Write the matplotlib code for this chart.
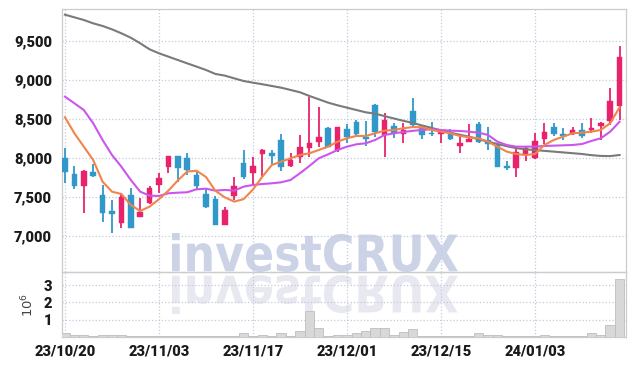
import matplotlib
matplotlib.use('Agg')
import matplotlib.pyplot as plt
from matplotlib.textpath import TextPath
from matplotlib.patches import PathPatch
from matplotlib.font_manager import FontProperties
from matplotlib.transforms import Affine2D

# trading days (yy/mm/dd)
dates = ['23/10/20', '23/10/23', '23/10/24', '23/10/25', '23/10/26', '23/10/27',
         '23/10/30', '23/10/31', '23/11/01', '23/11/02', '23/11/03', '23/11/06',
         '23/11/07', '23/11/08', '23/11/09', '23/11/10', '23/11/13', '23/11/14',
         '23/11/15', '23/11/16', '23/11/17', '23/11/20', '23/11/21', '23/11/22',
         '23/11/23', '23/11/24', '23/11/27', '23/11/28', '23/11/29', '23/11/30',
         '23/12/01', '23/12/04', '23/12/05', '23/12/06', '23/12/07', '23/12/08',
         '23/12/11', '23/12/12', '23/12/13', '23/12/14', '23/12/15', '23/12/18',
         '23/12/19', '23/12/20', '23/12/21', '23/12/22', '23/12/26', '23/12/27',
         '23/12/28', '24/01/02', '24/01/03', '24/01/04', '24/01/05', '24/01/08',
         '24/01/09', '24/01/10', '24/01/11', '24/01/12', '24/01/15', '24/01/16']

opens = [8000, 7800, 7640, 7830, 7530, 7320, 7175, 7530, 7250, 7425,
         7655, 7890, 8025, 8000, 7785, 7540, 7475, 7150, 7520, 7935,
         7805, 8055, 8070, 8235, 7905, 8010, 8135, 8215, 8385, 8100,
         8370, 8465, 8265, 8685, 8300, 8415, 8310, 8605, 8405, 8330,
         8305, 8325, 8160, 8215, 8440, 8240, 8175, 7900, 7870, 8040,
         8000, 8245, 8400, 8310, 8310, 8365, 8365, 8415, 8480, 8675]
closes = [7825, 7640, 7840, 7770, 7295, 7280, 7505, 7110, 7310, 7615,
          7750, 8025, 7870, 7845, 7650, 7370, 7150, 7340, 7640, 7765,
          7900, 8100, 8030, 7890, 7980, 8140, 8190, 8270, 8140, 8400,
          8270, 8310, 8250, 8340, 8490, 8320, 8365, 8425, 8300, 8305,
          8360, 8250, 8200, 8245, 8205, 8180, 7890, 7870, 8075, 8130,
          8220, 8335, 8315, 8290, 8365, 8280, 8390, 8450, 8735, 9295]
highs = [8130, 7900, 7850, 7930, 7660, 7470, 7560, 7615, 7495, 7640,
         7810, 8030, 8030, 8065, 7830, 7600, 7520, 7375, 7765, 8100,
         8020, 8125, 8100, 8310, 8070, 8300, 8780, 8660, 8395, 8405,
         8435, 8490, 8480, 8690, 8575, 8450, 8450, 8770, 8430, 8470,
         8365, 8370, 8300, 8440, 8465, 8400, 8195, 7970, 8160, 8160,
         8320, 8450, 8450, 8390, 8400, 8450, 8515, 8470, 8900, 9440]
lows = [7680, 7600, 7300, 7760, 7180, 7040, 7100, 7100, 7245, 7420,
        7560, 7810, 7690, 7790, 7590, 7365, 7150, 7145, 7465, 7730,
        7660, 7765, 7915, 7840, 7890, 7935, 8020, 8140, 8140, 8080,
        8190, 8285, 8160, 8275, 8020, 8255, 8190, 8415, 8245, 8280,
        8200, 8235, 8070, 8210, 8200, 8110, 7890, 7850, 7755, 7960,
        7995, 8185, 8280, 8235, 8300, 8255, 8320, 8235, 8430, 8490]

# volume in millions
volumes = [0.23, 0.17, 0.17, 0.11, 0.17, 0.17, 0.17, 0.11, 0.11, 0.11,
           0.08, 0.11, 0.11, 0.11, 0.08, 0.08, 0.08, 0.08, 0.11, 0.23,
           0.11, 0.17, 0.11, 0.23, 0.11, 0.36, 1.50, 0.57, 0.11, 0.17,
           0.17, 0.23, 0.38, 0.57, 0.53, 0.17, 0.29, 0.46, 0.11, 0.11,
           0.08, 0.08, 0.11, 0.11, 0.27, 0.17, 0.17, 0.08, 0.11, 0.08,
           0.11, 0.17, 0.11, 0.08, 0.08, 0.11, 0.23, 0.17, 0.74, 3.37]

# moving averages (short / mid / long)
ma_short = [8526, 8320, 8149, 7978, 7700, 7572, 7542, 7401, 7324, 7380,
            7475, 7585, 7715, 7830, 7840, 7760, 7583, 7500, 7444, 7476,
            7600, 7764, 7914, 7956, 8000, 8042, 8064, 8106, 8149, 8213,
            8256, 8286, 8286, 8320, 8354, 8363, 8385, 8400, 8397, 8363,
            8341, 8320, 8286, 8269, 8256, 8213, 8149, 8085, 8055, 8042,
            8055, 8170, 8235, 8277, 8320, 8328, 8341, 8363, 8449, 8654]
ma_mid = [8790, 8705, 8619, 8449, 8235, 8042, 7892, 7722, 7572, 7521,
          7517, 7551, 7559, 7564, 7602, 7610, 7585, 7594, 7585, 7636,
          7658, 7670, 7679, 7692, 7722, 7808, 7901, 8000, 8051, 8106,
          8149, 8179, 8192, 8235, 8299, 8320, 8337, 8352, 8363, 8372,
          8363, 8354, 8350, 8341, 8328, 8299, 8213, 8170, 8149, 8149,
          8149, 8158, 8162, 8166, 8170, 8183, 8222, 8256, 8341, 8469]
ma_long = [9841, 9807, 9773, 9730, 9696, 9653, 9602, 9546, 9474, 9397,
           9346, 9303, 9260, 9217, 9175, 9132, 9081, 9060, 9025, 8991,
           8969, 8949, 8927, 8905, 8876, 8846, 8799, 8756, 8713, 8679,
           8649, 8619, 8589, 8572, 8540, 8510, 8480, 8453, 8420, 8390,
           8357, 8328, 8302, 8277, 8243, 8213, 8183, 8155, 8130, 8115,
           8105, 8095, 8085, 8075, 8065, 8055, 8040, 8030, 8028, 8042]

price_ticks = [7000, 7500, 8000, 8500, 9000, 9500]
vol_ticks = [1, 2, 3]

UP = '#e8236b'
DOWN = '#3199c9'
GRID = '#c5c9de'
label_font = 'Roboto'

fig = plt.figure(figsize=(6.34, 3.66), dpi=100)
fig.patch.set_facecolor('white')
ax = fig.add_axes([0.0973, 0.2560, 0.8893, 0.7186])
axv = fig.add_axes([0.0973, 0.0779, 0.8893, 0.1781], sharex=ax)

# watermark with its reflection, drawn behind the axes
tp = TextPath((0, 0), 'investCRUX', size=50,
              prop=FontProperties(family='DejaVu Sans', weight='bold'))
ext = tp.get_extents()
sx = 286 / ext.width
sy = 39 / ext.height
t_up = Affine2D().translate(-ext.x0, -ext.y0).scale(sx, sy).translate(172, 366 - 272)
t_dn = Affine2D().translate(-ext.x0, -ext.y0).scale(sx, -sy).translate(172, 366 - 275)
fig.add_artist(PathPatch(tp, transform=t_up, facecolor='#cdd3e7',
                         edgecolor='none', zorder=-2))
fig.add_artist(PathPatch(tp, transform=t_dn, facecolor='#e8e9f0',
                         edgecolor='none', zorder=-2))

idx = list(range(len(dates)))

# candles
for i in idx:
    o, c, h, l = opens[i], closes[i], highs[i], lows[i]
    col = UP if c >= o else DOWN
    ax.vlines(i, l, h, color=col, lw=1.3, zorder=3)
    body = max(abs(c - o), 25)
    ax.bar(i, body, bottom=min(o, c) - (body - abs(c - o)) / 2, width=0.6,
           color=col, edgecolor=col, lw=0.3, zorder=4)

# moving averages
ax.plot(idx, ma_long, color='#7a7a7a', lw=1.5, zorder=5)
ax.plot(idx, ma_mid, color='#cc55ee', lw=1.5, zorder=5)
ax.plot(idx, ma_short, color='#f0844c', lw=1.5, zorder=5)

# volume
axv.bar(idx, volumes, width=1.0, color='#d8d8d8', edgecolor='#bdbdbd',
        lw=0.6, zorder=3)

for a in (ax, axv):
    a.set_facecolor('none')
    for s in a.spines.values():
        s.set_color('#cccccc')
        s.set_linewidth(0.9)
    a.grid(True, linestyle=':', color=GRID, lw=0.9)
    a.set_axisbelow(True)
    a.tick_params(length=0, colors='#1a1a1a')

ax.set_xlim(-0.35, 59.63)
ax.set_ylim(6538, 9910)
ax.set_yticks(price_ticks)
ax.set_yticklabels(['{:,}'.format(v) for v in price_ticks],
                   family=label_font, fontsize=10.5, fontweight='heavy')
ax.tick_params(axis='y', pad=7)
plt.setp(ax.get_xticklabels(), visible=False)

axv.set_ylim(0, 3.726)
axv.set_yticks(vol_ticks)
axv.set_yticklabels([str(v) for v in vol_ticks], family=label_font,
                    fontsize=10.5, fontweight='heavy')
axv.tick_params(axis='y', pad=7)
axv.set_ylabel('$10^6$', fontsize=9.5, color='#444444', labelpad=5)

tick_pos = idx[::10]
axv.set_xticks(tick_pos)
axv.set_xticklabels([dates[i] for i in tick_pos], family=label_font,
                    fontsize=10.5, fontweight='heavy')
axv.tick_params(axis='x', pad=5)

fig.savefig('out.png', dpi=100, facecolor='white')
